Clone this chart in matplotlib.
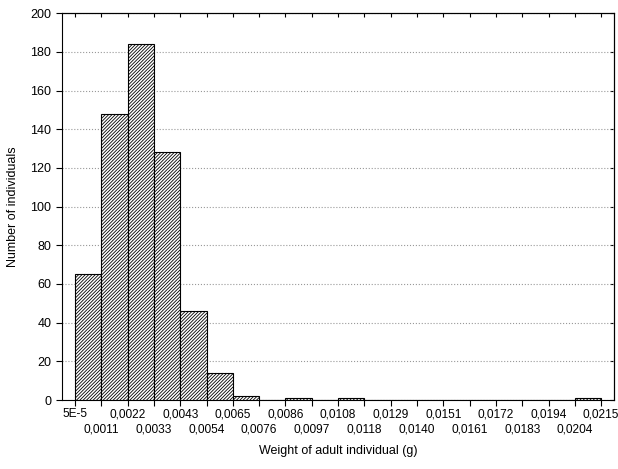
import matplotlib.pyplot as plt
import numpy as np

plt.rcParams['font.family'] = ['Liberation Sans', 'DejaVu Sans']
plt.rcParams['hatch.linewidth'] = 0.6
plt.rcParams['hatch.color'] = '#333333'

# Histogram counts per weight class
counts = [65, 148, 184, 128, 46, 14, 2, 0, 1, 0, 1, 0, 0, 0, 0, 0, 0, 0, 0, 1]
edge_labels = ['5E-5', '0,0011', '0,0022', '0,0033', '0,0043', '0,0054', '0,0065',
               '0,0076', '0,0086', '0,0097', '0,0108', '0,0118', '0,0129', '0,0140',
               '0,0151', '0,0161', '0,0172', '0,0183', '0,0194', '0,0204', '0,0215']
w_min, w_max = 5e-5, 0.0215

edges = np.linspace(w_min, w_max, len(counts) + 1)
widths = np.diff(edges)

fig = plt.figure(figsize=(6.18, 4.69), dpi=100)
ax = fig.add_axes([0.100, 0.147, 0.894, 0.825])

ax.bar(edges[:-1], counts, width=widths, align='edge', facecolor='white',
       edgecolor='black', linewidth=0.8, hatch='/' * 10, zorder=3)

ax.set_xlim(edges[0] - widths[0] / 2, edges[-1] + widths[0] / 2)
ax.set_ylim(0, 200)
ax.set_yticks(np.arange(0, 201, 20))

# alternate labels on two rows: even edges as major ticks, odd as minor
ax.set_xticks(edges[::2])
ax.set_xticklabels(edge_labels[::2], fontsize=8.6)
ax.set_xticks(edges[1::2], minor=True)
ax.set_xticklabels(edge_labels[1::2], minor=True, fontsize=8.6)
ax.tick_params(axis='x', which='major', direction='out', length=4, width=0.8, pad=2)
ax.tick_params(axis='x', which='minor', direction='out', length=4, width=0.8, pad=13)
ax.tick_params(axis='y', labelsize=9, direction='out', length=4, width=0.8)

# small inner ticks on top and right
ax2 = ax.secondary_xaxis('top')
ax2.set_xticks(edges)
ax2.tick_params(direction='in', length=3, labeltop=False)
ax3 = ax.secondary_yaxis('right')
ax3.set_yticks(np.arange(0, 201, 20))
ax3.tick_params(direction='in', length=3, labelright=False)

ax.yaxis.grid(True, linestyle=':', color='#999999', linewidth=0.8, zorder=0)
for s in ax.spines.values():
    s.set_linewidth(0.8)

ax.set_xlabel('Weight of adult individual (g)', fontsize=9, labelpad=7)
ax.set_ylabel('Number of individuals', fontsize=9, labelpad=8)

fig.savefig('out.png', dpi=100)
